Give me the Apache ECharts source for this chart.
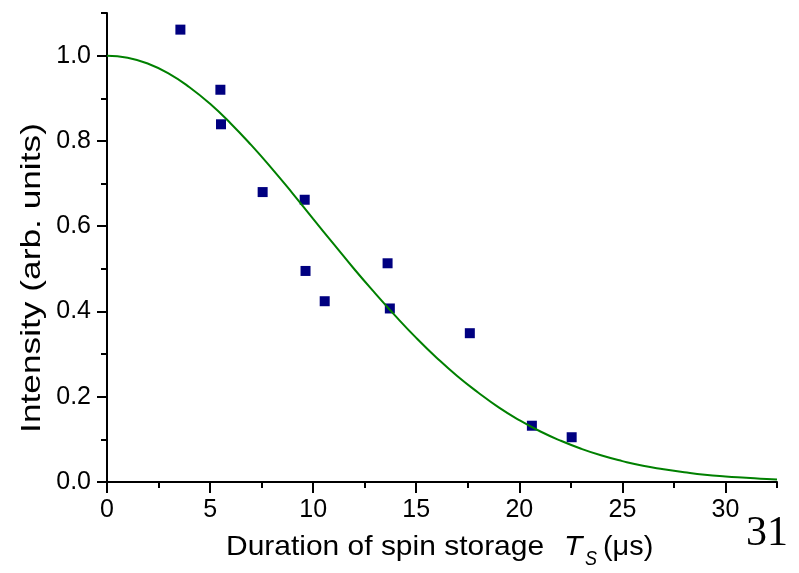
<!DOCTYPE html>
<html>
<head>
<meta charset="utf-8">
<script src="https://cdn.jsdelivr.net/npm/echarts@6/dist/echarts.min.js"></script>
<style>
html,body{margin:0;padding:0;background:#fff;}
#chart{width:799px;height:573px;}
</style>
</head>
<body>
<div id="chart"></div>
<script>
// Measured data points (duration in µs, intensity)
var pointsX = [3.56, 5.50, 5.53, 7.55, 9.59, 9.63, 10.56, 13.61, 13.72, 17.60, 20.61, 22.54];
var pointsY = [1.061, 0.920, 0.839, 0.680, 0.662, 0.495, 0.424, 0.513, 0.407, 0.349, 0.132, 0.105];

// Fit curve
var curveX = [0, 1, 2, 3, 4, 5, 6, 7, 8, 9, 10, 11, 12, 13, 14, 15, 16, 17, 18, 19, 20, 21, 22, 23, 24, 25, 26, 27, 28, 29, 30, 31, 32, 32.5];
var curveY = [1.000, 0.995, 0.981, 0.958, 0.926, 0.887, 0.841, 0.790, 0.735, 0.677, 0.617, 0.558, 0.499, 0.443, 0.389, 0.338, 0.291, 0.248, 0.210, 0.175, 0.145, 0.119, 0.097, 0.078, 0.062, 0.049, 0.038, 0.030, 0.023, 0.017, 0.013, 0.010, 0.007, 0.006];

var xMajorTicks = [0, 5, 10, 15, 20, 25, 30];
var yMajorTicks = [0, 0.2, 0.4, 0.6, 0.8, 1.0];

var xTitle = 'Duration of spin storage';
var yTitle = 'Intensity (arb. units)';
var pageNumber = '31';

var FONT = '"Liberation Sans", Arial, sans-serif';

var scatterData = pointsX.map(function (x, i) { return [x, pointsY[i]]; });
var curveData = curveX.map(function (x, i) { return [x, curveY[i]]; });

var chart = echarts.init(document.getElementById('chart'), null, {renderer: 'canvas'});

var axisLineStyle = {color: '#000', width: 2};

chart.setOption({
  animation: false,
  backgroundColor: '#fff',
  grid: {left: 107, right: 22, top: 13, bottom: 91},
  xAxis: [{
    type: 'value', min: 0, max: 32.5, interval: 5, position: 'bottom',
    axisLine: {show: true, onZero: false, lineStyle: axisLineStyle},
    axisTick: {show: true, length: 11, lineStyle: {color: '#000', width: 2}, customValues: xMajorTicks},
    axisLabel: {show: true, margin: 16, fontSize: 25, fontFamily: FONT, color: '#000', customValues: xMajorTicks},
    splitLine: {show: false}
  }, {
    type: 'value', min: 0, max: 32.5, interval: 2.5, position: 'bottom',
    axisLine: {show: false},
    axisTick: {show: true, length: 6, lineStyle: {color: '#000', width: 2}},
    axisLabel: {show: false},
    splitLine: {show: false}
  }],
  yAxis: [{
    type: 'value', min: 0, max: 1.1, interval: 0.2, position: 'left',
    axisLine: {show: true, onZero: false, lineStyle: axisLineStyle},
    axisTick: {show: true, length: 10, lineStyle: {color: '#000', width: 2}, customValues: yMajorTicks},
    axisLabel: {show: true, margin: 16, fontSize: 25, fontFamily: FONT, color: '#000', customValues: yMajorTicks,
      formatter: function (v) { return v.toFixed(1); }},
    splitLine: {show: false}
  }, {
    type: 'value', min: 0, max: 1.1, interval: 0.1, position: 'left',
    axisLine: {show: false},
    axisTick: {show: true, length: 6, lineStyle: {color: '#000', width: 2}},
    axisLabel: {show: false},
    splitLine: {show: false}
  }],
  series: [{
    type: 'line', data: curveData, xAxisIndex: 0, yAxisIndex: 0,
    showSymbol: false, smooth: true,
    lineStyle: {color: '#008000', width: 2}
  }, {
    type: 'scatter', data: scatterData, xAxisIndex: 0, yAxisIndex: 0,
    symbol: 'rect', symbolSize: 10,
    itemStyle: {color: '#000080', opacity: 1}
  }],
  graphic: [
    {type: 'text', x: 32, y: 278, rotation: Math.PI / 2, scaleX: 1.26,
      style: {text: yTitle, fontSize: 28, fontFamily: FONT, fill: '#000', align: 'center', verticalAlign: 'middle'}},
    {type: 'text', x: 226, y: 547, scaleX: 1.07,
      style: {text: xTitle, fontSize: 28, fontFamily: FONT, fill: '#000', align: 'left', verticalAlign: 'middle'}},
    {type: 'text', x: 564, y: 547, scaleX: 1.07,
      style: {text: 'T', fontSize: 28, fontStyle: 'italic', fontFamily: FONT, fill: '#000', align: 'left', verticalAlign: 'middle'}},
    {type: 'text', x: 585, y: 559, scaleX: 0.9,
      style: {text: 'S', fontSize: 20, fontStyle: 'italic', fontFamily: FONT, fill: '#000', align: 'left', verticalAlign: 'middle'}},
    {type: 'text', x: 603, y: 547, scaleX: 1.03,
      style: {text: '(\u03bcs)', fontSize: 28, fontFamily: FONT, fill: '#000', align: 'left', verticalAlign: 'middle'}},
    {type: 'text', x: 746, y: 534, 
      style: {text: pageNumber, fontSize: 42, fontFamily: '"Liberation Serif", "Times New Roman", serif', fill: '#000', align: 'left', verticalAlign: 'middle'}}
  ]
});
</script>
</body>
</html>
